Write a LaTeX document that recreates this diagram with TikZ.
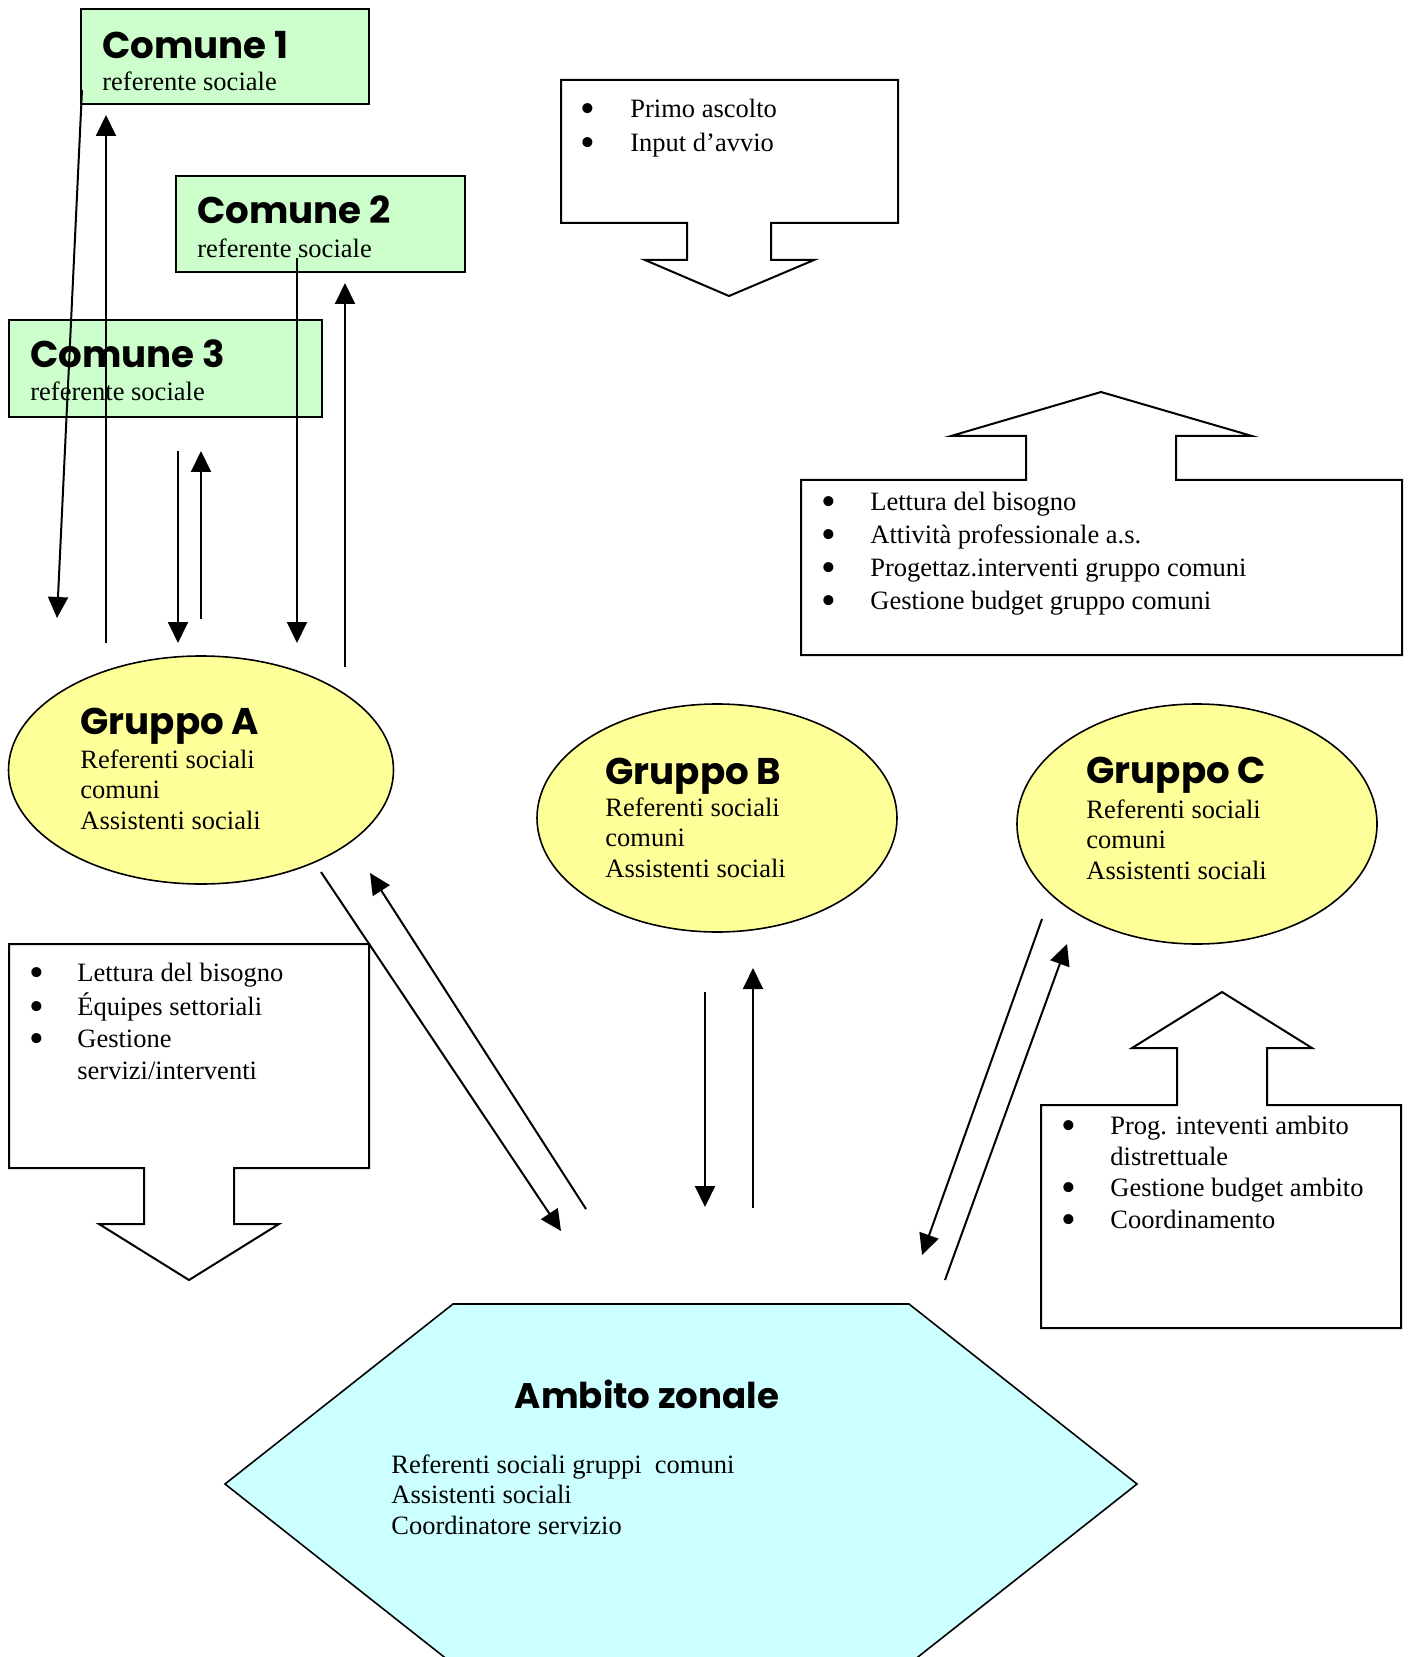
\documentclass[tikz,border=0pt]{standalone}
\usepackage{fontspec}
\setmainfont{Liberation Serif}
\newfontfamily\titlefont{Poppins}
\usetikzlibrary{shapes.geometric,arrows.meta}
\definecolor{cgreen}{HTML}{CCFFCC}
\definecolor{cyell}{HTML}{FFFF99}
\definecolor{ccyan}{HTML}{CCFFFF}
\newcommand\itm[1][24.7pt]{\makebox[#1][l]{\smash{\raisebox{-2.5pt}{\fontsize{21pt}{21pt}\selectfont •}}}}
\begin{document}
\begin{tikzpicture}[x=0.5pt,y=-0.5pt,
  comune/.style={draw, line width=1pt, fill=cgreen, rectangle, inner sep=0},
  grp/.style={draw, line width=0.8pt, fill=cyell, ellipse, inner sep=0},
  ttl/.style={font=\titlefont\bfseries\fontsize{18.6pt}{22pt}\selectfont, inner sep=0, anchor=base west},
  txt/.style={font=\fontsize{13.25pt}{15.25pt}\selectfont, inner sep=0, anchor=base west},
  blk/.style={font=\fontsize{13.25pt}{#1}\selectfont, inner sep=0, anchor=north west, align=left},
  call/.style={draw, line width=1pt, fill=white},
  arr/.style={line width=1pt, -{Triangle[length=10.5pt,width=10pt]}},
]
\useasboundingbox (0,0) rectangle (1409,1657);
\fill[white] (0,0) rectangle (1409,1657);

% Comune boxes
\node[comune, minimum width=144pt, minimum height=47.5pt] (c1) at (225,56.5) {};
\node[comune, minimum width=144.5pt, minimum height=48pt] (c2) at (320.5,224) {};
\node[comune, minimum width=156.5pt, minimum height=48.5pt] (c3) at (165.5,368.5) {};
\node[ttl] (c1t) at (102,59) {Comune 1};
\node[txt] (c1s) at (102,91) {referente sociale};
\node[ttl] (c2t) at (197,224) {Comune 2};
\node[txt] (c2s) at (197,258) {referente sociale};
\node[ttl] (c3t) at (30,368) {Comune 3};
\node[txt] (c3s) at (30,401) {referente sociale};

% Gruppi
\node[grp, minimum width=192.5pt, minimum height=114pt] (gA) at (201,770) {};
\node[grp, minimum width=180pt, minimum height=114pt] (gB) at (717,818) {};
\node[grp, minimum width=180pt, minimum height=120pt] (gC) at (1197,824) {};
\node[ttl] (gAt) at (80,734) {Gruppo A};
\node[blk=15.25pt] (gAb) at (80,746.5) {\strut Referenti sociali\\\strut comuni\\\strut Assistenti sociali};
\node[ttl] (gBt) at (605,784) {Gruppo B};
\node[blk=15.25pt] (gBb) at (605,794.5) {\strut Referenti sociali\\\strut comuni\\\strut Assistenti sociali};
\node[ttl] (gCt) at (1086,783) {Gruppo C};
\node[blk=15.25pt] (gCb) at (1086,796.5) {\strut Referenti sociali\\\strut comuni\\\strut Assistenti sociali};

% Ambito zonale hexagon
\begin{scope}
\clip (0,0) rectangle (1409,1657);
\draw[line width=0.8pt, fill=ccyan] (453,1304) -- (909,1304) -- (1137,1484) -- (909,1664) -- (453,1664) -- (225,1484) -- cycle;
\end{scope}
\node[ttl, anchor=base, font=\titlefont\bfseries\fontsize{17.8pt}{22pt}\selectfont] (azt) at (647,1408) {Ambito zonale};
\node[blk=15.25pt] (azb) at (391,1451.5) {\strut Referenti sociali gruppi\ \ comuni\\\strut Assistenti sociali\\\strut Coordinatore servizio};

% Callouts
\draw[call] (561,80) -- (898,80) -- (898,223) -- (771,223) -- (771,260) -- (814,260) -- (729,296) -- (645,260) -- (687,260) -- (687,223) -- (561,223) -- cycle;
\node[blk=17pt] (k1) at (579.6,93) {\strut\itm[25.2pt]Primo ascolto\\\strut\itm[25.2pt]Input d’avvio};

\draw[call] (801,480) -- (1026,480) -- (1026,436) -- (951,436) -- (1101,392) -- (1252,436) -- (1176,436) -- (1176,480) -- (1402,480) -- (1402,655) -- (801,655) -- cycle;
\node[blk=16.5pt] (k2) at (820.6,487) {\strut\itm Lettura del bisogno\\\strut\itm Attività professionale a.s.\\\strut\itm Progettaz.interventi gruppo comuni\\\strut\itm Gestione budget gruppo comuni};

\draw[call] (9,944) -- (369,944) -- (369,1168) -- (234,1168) -- (234,1224) -- (279,1224) -- (189,1280) -- (99,1224) -- (144,1224) -- (144,1168) -- (9,1168) -- cycle;
\node[blk=15.85pt] (k3) at (28.6,958.8) {\strut\itm[24.2pt]Lettura del bisogno\\\strut\itm[24.2pt]Équipes settoriali\\\strut\itm[24.2pt]Gestione\\\strut\hspace*{24.2pt}servizi/interventi};

\draw[call] (1041,1105) -- (1177,1105) -- (1177,1048) -- (1132,1048) -- (1222,992) -- (1312,1048) -- (1267,1048) -- (1267,1105) -- (1401,1105) -- (1401,1328) -- (1041,1328) -- cycle;
\node[blk=15.65pt] (k4) at (1060.6,1112) {\strut\itm Prog. inteventi ambito\\\strut\hspace*{24.7pt}distrettuale\\\strut\itm Gestione budget ambito\\\strut\itm Coordinamento};

% connector end points
\coordinate (a1s) at (82,90);   \coordinate (a1e) at (57,618);
\coordinate (a2s) at (106,643); \coordinate (a2e) at (106,115);
\coordinate (a3s) at (178,451); \coordinate (a3e) at (178,643);
\coordinate (a4s) at (201,619); \coordinate (a4e) at (201,451);
\coordinate (a5s) at (297,258); \coordinate (a5e) at (297,643);
\coordinate (a6s) at (345,667); \coordinate (a6e) at (345,283);
\coordinate (b1s) at (321,872); \coordinate (b1e) at (561,1231);
\coordinate (b2s) at (586,1209); \coordinate (b2e) at (370,873);
\coordinate (b3s) at (705,992); \coordinate (b3e) at (705,1207);
\coordinate (b4s) at (753,1208); \coordinate (b4e) at (753,968);
\coordinate (b5s) at (1042,919); \coordinate (b5e) at (922,1255);
\coordinate (b6s) at (945,1280); \coordinate (b6e) at (1067,944);

\draw[arr] (a1s) -- (a1e);
\draw[arr] (a2s) -- (a2e);
\draw[arr] (a3s) -- (a3e);
\draw[arr] (a4s) -- (a4e);
\draw[arr] (a5s) -- (a5e);
\draw[arr] (a6s) -- (a6e);
\draw[arr] (b1s) -- (b1e);
\draw[arr] (b2s) -- (b2e);
\draw[arr] (b3s) -- (b3e);
\draw[arr] (b4s) -- (b4e);
\draw[arr] (b5s) -- (b5e);
\draw[arr] (b6s) -- (b6e);
\end{tikzpicture}
\end{document}
